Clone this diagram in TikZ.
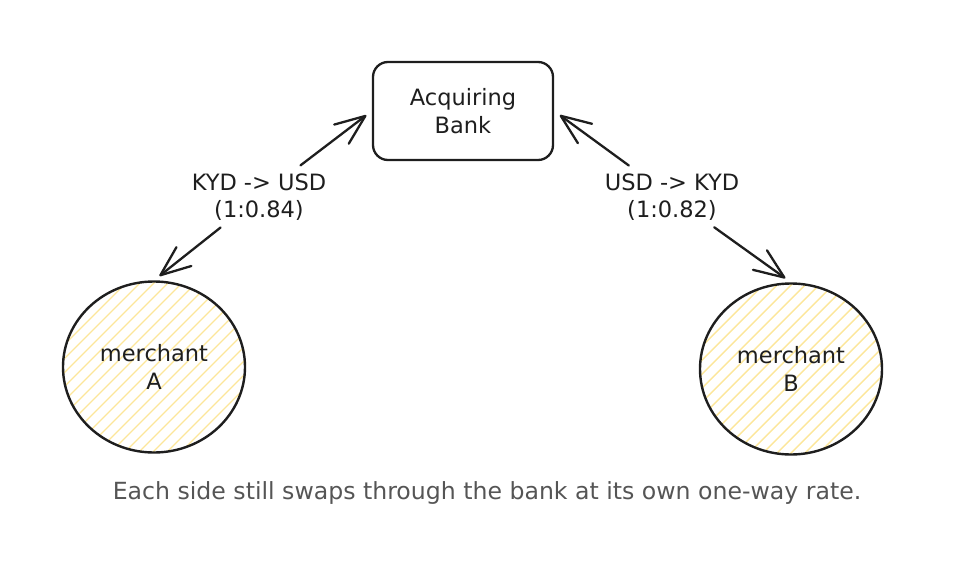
\documentclass[tikz,border=0pt]{standalone}
\usepackage{fontspec}
\setmainfont{DejaVu Sans}
\usetikzlibrary{arrows.meta,shapes.geometric}
\definecolor{ink}{HTML}{1E1E1E}
\definecolor{hatchy}{HTML}{FCE69A}
\definecolor{capgray}{HTML}{555555}
\begin{document}
\begin{tikzpicture}[x=1pt,y=-1pt,
  every node/.style={font=\fontsize{22.5}{27.5}\selectfont, text=ink, align=center},
  bankbox/.style={draw=ink, line width=2.3pt, rounded corners=15pt,
    minimum width=180pt, minimum height=98pt},
  merchant/.style={ellipse, draw=ink, line width=2.4pt, inner sep=0pt,
    minimum width=182pt, minimum height=171pt,
    path picture={
      \foreach \i in {-238,-224,...,238}
        \draw[hatchy, line width=1.4pt]
          ([xshift=\i pt]path picture bounding box.center)
          +(-110pt,-110pt) -- +(110pt,110pt);
    }},
  rate/.style={inner sep=3pt},
  link/.style={draw=ink, line width=2.3pt, line cap=round,
    -{Straight Barb[length=30pt,width=24pt,round]}},
  caption/.style={text=capgray, font=\fontsize{23.6}{28}\selectfont},
]
\useasboundingbox (0,0) rectangle (956,578);

\node[bankbox] (bank) at (463,111) {Acquiring\\Bank};
\node[merchant] (mA) at (154,367) {merchant\\A};
\node[merchant] (mB) at (791,369) {merchant\\B};

\node[rate] (rA) at (259,197) {KYD -> USD\\(1:0.84)};
\node[rate] (rB) at (672,197) {USD -> KYD\\(1:0.82)};

\draw[link, shorten <=8pt, shorten >=7pt] (rA) -- (bank.west);
\draw[link, shorten <=6pt, shorten >=7pt] (rA) -- (mA.north);
\draw[link, shorten <=8pt, shorten >=7pt] (rB) -- (bank.east);
\draw[link, shorten <=6pt, shorten >=7pt] (rB) -- (mB.north);

\node[caption] (cap) at (487,493) {Each side still swaps through the bank at its own one-way rate.};
\end{tikzpicture}
\end{document}
